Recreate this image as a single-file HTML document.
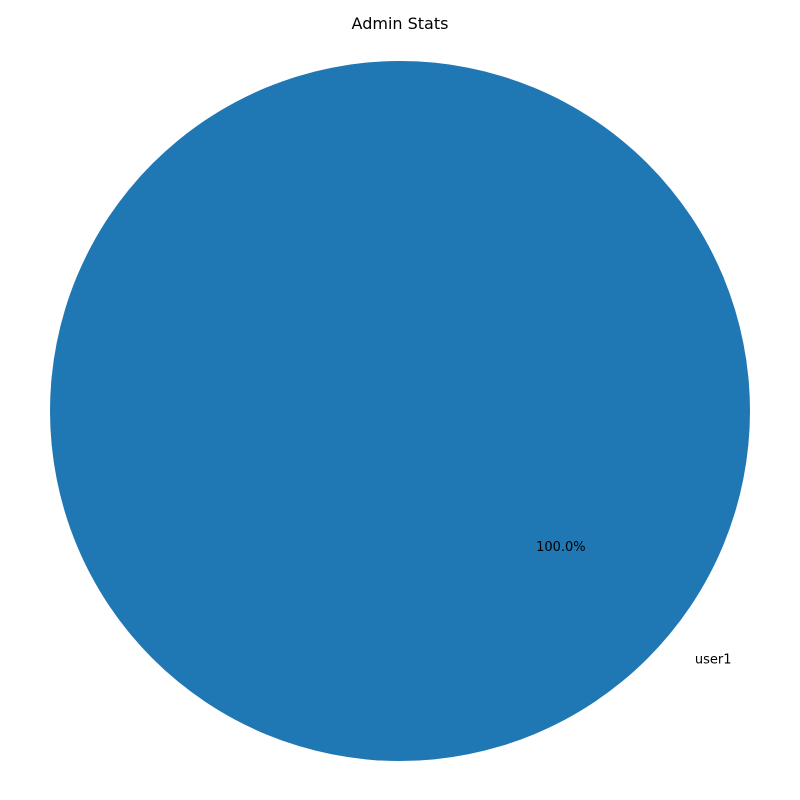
<!DOCTYPE html>
<html><head><meta charset="utf-8"><style>
html,body{margin:0;padding:0;background:#fff;}
svg{display:block;font-family:"DejaVu Sans","Liberation Sans",sans-serif;}
</style></head><body>
<svg id="chart" width="800" height="800" viewBox="0 0 800 800">
<rect width="800" height="800" fill="#fff"/>
<text x="400" y="29" text-anchor="middle" font-size="16" fill="#000">Admin Stats</text>
<g id="slices"></g>
</svg>
<script>
const labels = ["user1"];
const values = [1];
const colors = ["#1f77b4"];
const startAngle = 140;
const cx = 400, cy = 411, r = 350;
const svg = document.getElementById('slices');
const ns = 'http://www.w3.org/2000/svg';
const total = values.reduce((a,b)=>a+b,0);
let a0 = startAngle;
function pt(deg, rad){ const t = deg*Math.PI/180; return [cx + rad*Math.cos(t), cy - rad*Math.sin(t)]; }
values.forEach((v,i)=>{
  const frac = v/total;
  const a1 = a0 + frac*360;
  let el;
  if (frac >= 0.9999) {
    el = document.createElementNS(ns,'circle');
    el.setAttribute('cx',cx); el.setAttribute('cy',cy); el.setAttribute('r',r);
  } else {
    el = document.createElementNS(ns,'path');
    const p0 = pt(a0,r), p1 = pt(a1,r);
    const large = (a1-a0)>180?1:0;
    el.setAttribute('d',`M${cx},${cy} L${p0[0]},${p0[1]} A${r},${r} 0 ${large} 0 ${p1[0]},${p1[1]} Z`);
  }
  el.setAttribute('fill', colors[i % colors.length]);
  
  
  svg.appendChild(el);
  const mid = (a0+a1)/2;
  const lp = pt(mid, r*1.1);
  const lt = document.createElementNS(ns,'text');
  lt.setAttribute('x', lp[0]); lt.setAttribute('y', lp[1]+5);
  lt.setAttribute('text-anchor', Math.cos(mid*Math.PI/180) >= 0 ? 'start' : 'end');
  lt.setAttribute('font-size','13');
  lt.textContent = labels[i];
  
  
  svg.appendChild(lt);
  const pp = pt(mid, r*0.6);
  const pt2 = document.createElementNS(ns,'text');
  pt2.setAttribute('x', pp[0]); pt2.setAttribute('y', pp[1]+5);
  pt2.setAttribute('text-anchor','middle');
  pt2.setAttribute('font-size','13');
  pt2.textContent = (frac*100).toFixed(1) + '%';
  
  
  svg.appendChild(pt2);
  a0 = a1;
});
</script>
</body></html>
